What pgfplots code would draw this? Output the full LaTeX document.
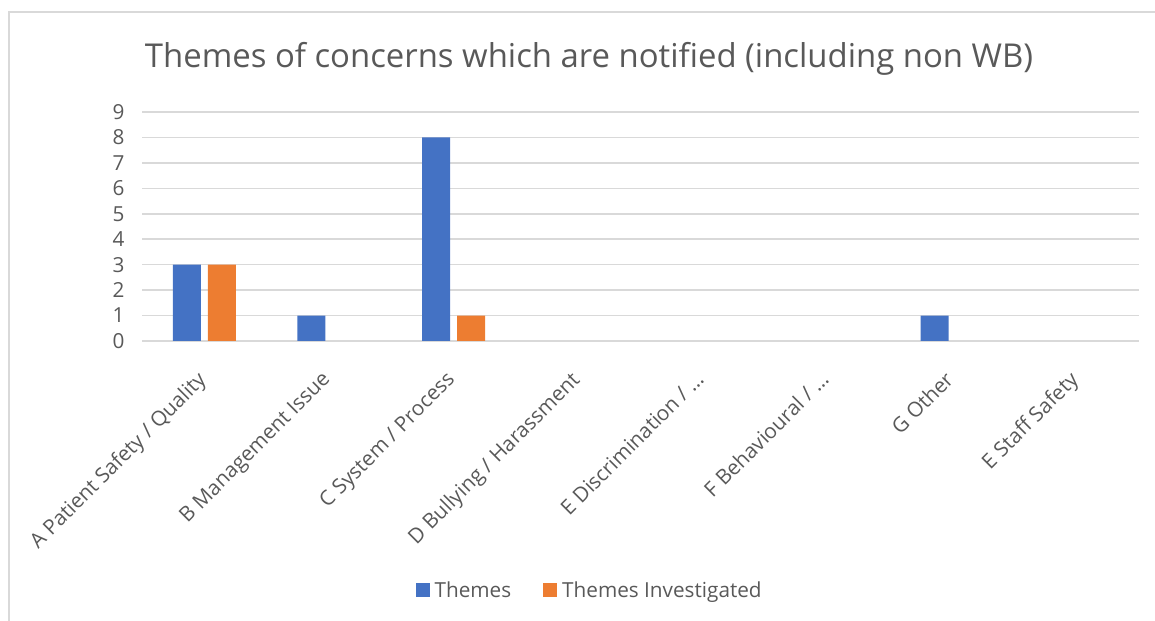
\documentclass[border=0pt]{standalone}
\usepackage{pgfplots}
\pgfplotsset{compat=1.18}
\usepackage{fontspec}
\setmainfont{Open Sans}
\definecolor{cblue}{HTML}{4472C4}
\definecolor{corange}{HTML}{ED7D31}
\definecolor{cgrid}{HTML}{D9D9D9}
\definecolor{ctext}{HTML}{595959}
\begin{document}
\begin{tikzpicture}[x=1bp,y=1bp]
\path[use as bounding box] (0,0) rectangle (1155,621);
\draw[cgrid,line width=1.5bp] (9,0) -- (9,609) -- (1155,609);
\node[anchor=base,text=ctext,font=\fontsize{33}{36}\selectfont] at (589,553) {Themes of concerns which are notified (including non WB)};
\begin{axis}[
  at={(142bp,280bp)}, anchor=south west,
  scale only axis, width=997bp, height=229bp,
  ybar=7bp, bar width=28bp,
  xmin=-0.5, xmax=7.5, ymin=0, ymax=9,
  ytick={0,...,9},
  xtick={0,...,7},
  xticklabels={A Patient Safety / Quality, B Management Issue, C System / Process, D Bullying / Harassment, E Discrimination / \dots, F Behavioural / \dots, G Other, E Staff Safety},
  xticklabel style={rotate=45, anchor=north east, xshift=-23bp, yshift=-11bp},
  yticklabel style={xshift=-14bp},
  tick label style={text=ctext, font=\fontsize{20.8}{22}\selectfont},
  /pgf/number format/assume math mode=true,
  major tick length=0pt,
  axis x line*=bottom,
  axis y line*=left,
  x axis line style={cgrid, line width=1.5bp, -},
  y axis line style={draw=none},
  ymajorgrids, grid style={cgrid, line width=1.5bp},
  legend style={at={(axis description cs:0.449,-1.087)}, anchor=center, draw=none, legend columns=2, font=\fontsize{20.8}{22}\selectfont, text=ctext, /tikz/every even column/.append style={column sep=30bp}, /tikz/every odd column/.append style={column sep=3bp}},
  legend image code/.code={\fill[#1] (0bp,-7bp) rectangle (14bp,7bp);},
]
\addplot[fill=cblue, draw=none] coordinates {(0,3) (1,1) (2,8) (6,1)};
\addplot[fill=corange, draw=none] coordinates {(0,3) (2,1)};
\legend{Themes, Themes Investigated}
\end{axis}
\end{tikzpicture}
\end{document}
